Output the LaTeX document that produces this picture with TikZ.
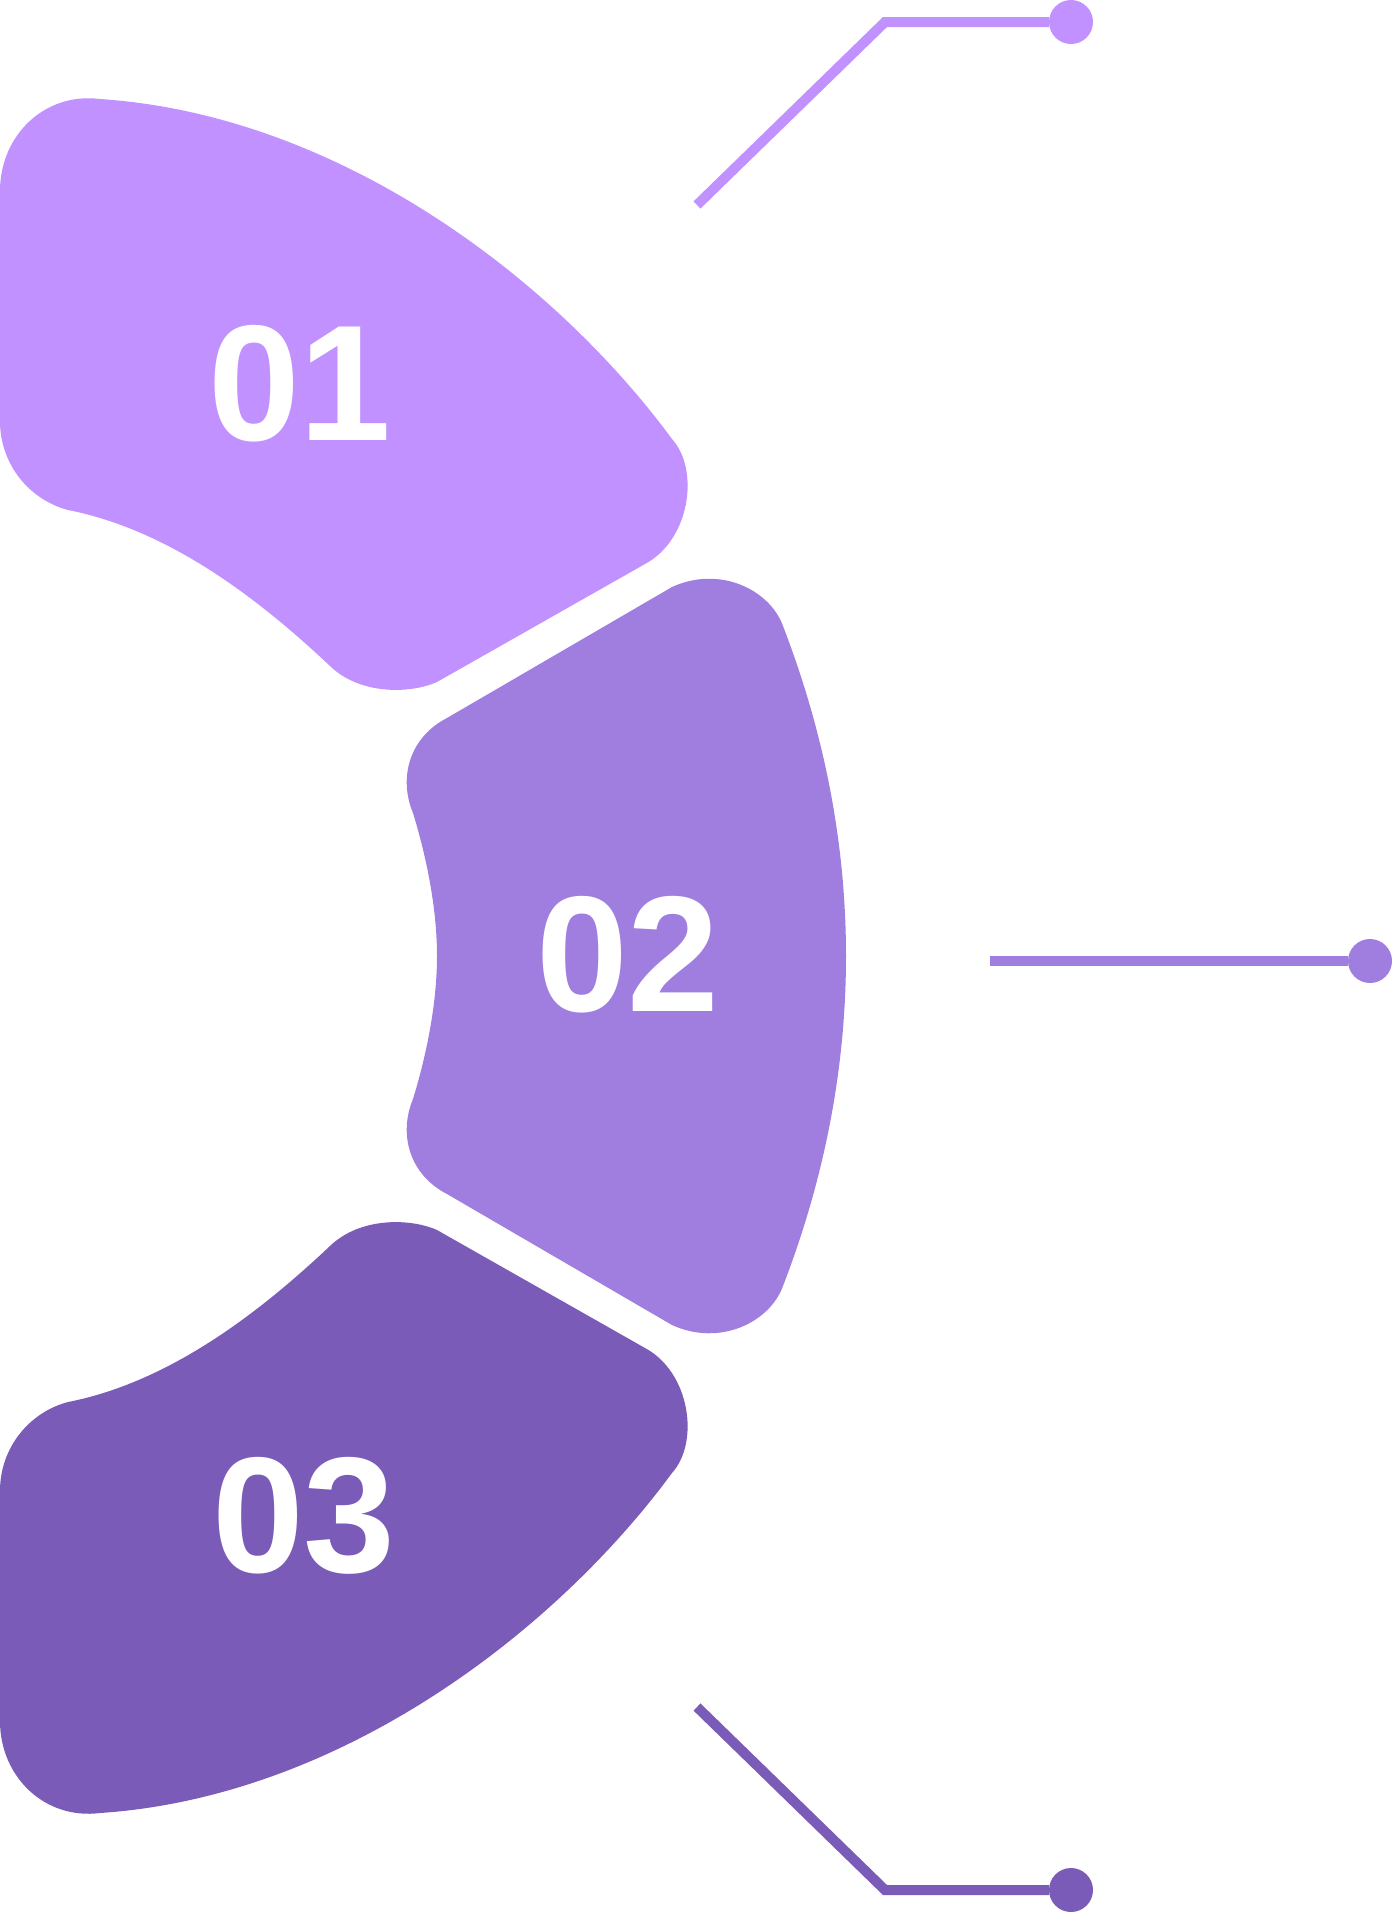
\documentclass[tikz,border=0pt]{standalone}
\usepackage{fontspec}
\setmainfont{Liberation Sans}
\usepackage{xcolor}
\definecolor{lilac}{HTML}{C192FF}
\definecolor{violet}{HTML}{9F7EE0}
\definecolor{plum}{HTML}{7B5BB8}
\newcommand{\petalpath}{(0,191) .. controls (0,135) and (45,92) .. (100,99)
  .. controls (340,115) and (555,280) .. (672,439)
  .. controls (700,470) and (690,540) .. (645,564)
  -- (437,682) .. controls (410,694) and (360,695) .. (330,666)
  .. controls (260,600) and (170,530) .. (68,510)
  .. controls (30,500) and (0,465) .. (0,421) -- cycle}
\begin{document}
\begin{tikzpicture}[x=1pt, y=-1pt,
  num/.style={text=white, font=\fontsize{165}{165}\selectfont\bfseries},
  dot/.style={circle, inner sep=0pt, minimum size=44pt},
  lead/.style={line width=10pt}]
            \useasboundingbox (0,0) rectangle (1392,1928);

            % Upper petal
            \fill[lilac] \petalpath;
            \node[num] (n1) at (300,384) {01};

            % Middle petal
            \fill[violet] (447,718) -- (672,587) .. controls (720,565) and (770,590) .. (783,626)
              .. controls (825,735) and (846,845) .. (846,956)
              .. controls (846,1067) and (825,1177) .. (783,1286)
              .. controls (770,1322) and (720,1347) .. (672,1325)
              -- (447,1194) .. controls (410,1175) and (398,1135) .. (413,1099)
              .. controls (428,1050) and (437,1000) .. (437,956)
              .. controls (437,912) and (428,862) .. (413,813)
              .. controls (398,777) and (410,737) .. (447,718) -- cycle;
            \node[num] (n2) at (628,955) {02};

            % Lower petal (mirror of the upper one)
            \begin{scope}[shift={(0,1912)}, yscale=-1]
              \fill[plum] \petalpath;
            \end{scope}
            \node[num] (n3) at (304,1516) {03};

            % Leader lines
            \node[dot, fill=lilac] (d1) at (1071,22) {};
            \coordinate (s1) at (697,205);
            \coordinate (k1) at (885,22);
            \draw[lead, lilac] (s1) -- (k1) -- (d1);

            \node[dot, fill=violet] (d2) at (1370,961) {};
            \coordinate (s2) at (990,961);
            \draw[lead, violet] (s2) -- (d2);

            \node[dot, fill=plum] (d3) at (1071,1890) {};
            \coordinate (s3) at (697,1707);
            \coordinate (k3) at (885,1890);
            \draw[lead, plum] (s3) -- (k3) -- (d3);
        \end{tikzpicture}
\end{document}
